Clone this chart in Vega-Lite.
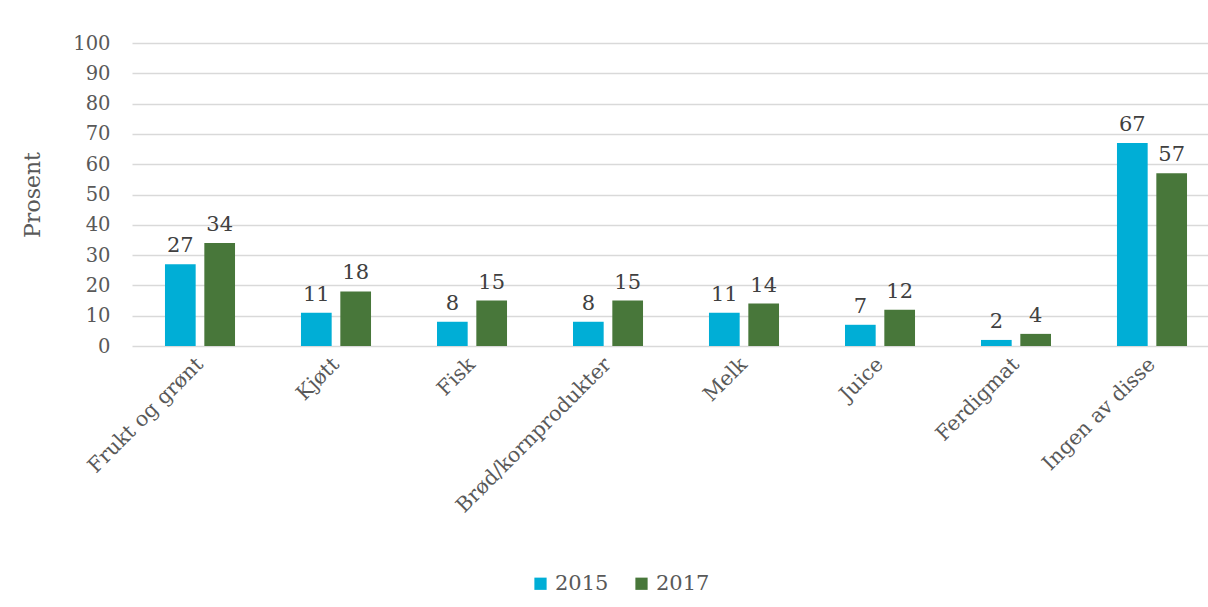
{
  "$schema": "https://vega.github.io/schema/vega-lite/v6.json",
  "width": 1076,
  "height": 303,
  "autosize": {"type": "none"},
  "padding": {"left": 132, "top": 43, "right": 0, "bottom": 261},
  "background": "white",
  "config": {
    "font": "DejaVu Serif",
    "view": {"stroke": null},
    "axis": {"labelFont": "DejaVu Serif", "titleFont": "DejaVu Serif"},
    "legend": {"labelFont": "DejaVu Serif"}
  },
  "data": {
    "values": [
      {"kategori": "Frukt og grønt", "år": "2015", "prosent": 27},
      {"kategori": "Frukt og grønt", "år": "2017", "prosent": 34},
      {"kategori": "Kjøtt", "år": "2015", "prosent": 11},
      {"kategori": "Kjøtt", "år": "2017", "prosent": 18},
      {"kategori": "Fisk", "år": "2015", "prosent": 8},
      {"kategori": "Fisk", "år": "2017", "prosent": 15},
      {"kategori": "Brød/kornprodukter", "år": "2015", "prosent": 8},
      {"kategori": "Brød/kornprodukter", "år": "2017", "prosent": 15},
      {"kategori": "Melk", "år": "2015", "prosent": 11},
      {"kategori": "Melk", "år": "2017", "prosent": 14},
      {"kategori": "Juice", "år": "2015", "prosent": 7},
      {"kategori": "Juice", "år": "2017", "prosent": 12},
      {"kategori": "Ferdigmat", "år": "2015", "prosent": 2},
      {"kategori": "Ferdigmat", "år": "2017", "prosent": 4},
      {"kategori": "Ingen av disse", "år": "2015", "prosent": 67},
      {"kategori": "Ingen av disse", "år": "2017", "prosent": 57}
    ]
  },
  "encoding": {
    "x": {
      "field": "kategori",
      "type": "nominal",
      "sort": null,
      "scale": {"range": [0, 1088], "paddingInner": 0.485, "paddingOuter": 0.2425},
      "axis": {
        "title": null,
        "labelAngle": -45,
        "labelAlign": "right",
        "labelBaseline": "middle",
        "labelFontSize": 20.5,
        "labelColor": "#595959",
        "labelPadding": 15,
        "ticks": false,
        "domain": false,
        "labelLimit": 300
      }
    },
    "xOffset": {"field": "år", "type": "nominal", "scale": {"paddingInner": 0.22}},
    "y": {
      "field": "prosent",
      "type": "quantitative",
      "scale": {"domain": [0, 100]},
      "axis": {
        "title": "Prosent",
        "titleFontSize": 22,
        "titleFontWeight": "normal",
        "titleColor": "#595959",
        "titlePadding": 28,
        "values": [0, 10, 20, 30, 40, 50, 60, 70, 80, 90, 100],
        "labelFontSize": 19.5,
        "labelColor": "#595959",
        "labelPadding": 22,
        "ticks": false,
        "domain": false,
        "gridColor": "#d9d9d9",
        "gridWidth": 1.5
      }
    }
  },
  "layer": [
    {
      "mark": {"type": "bar"},
      "encoding": {
        "color": {
          "field": "år",
          "type": "nominal",
          "scale": {"domain": ["2015", "2017"], "range": ["#00AED6", "#48773A"]},
          "legend": {
            "title": null,
            "orient": "none",
            "direction": "horizontal",
            "legendX": 398,
            "legendY": 530,
            "symbolType": "square",
            "symbolSize": 150,
            "labelFontSize": 21,
            "labelColor": "#595959",
            "labelOffset": 4,
            "columnPadding": 22,
            "symbolOffset": 0
          }
        }
      }
    },
    {
      "mark": {"type": "text", "baseline": "bottom", "dy": -8, "fontSize": 21, "color": "#404040"},
      "encoding": {"text": {"field": "prosent", "type": "quantitative"}}
    }
  ]
}
